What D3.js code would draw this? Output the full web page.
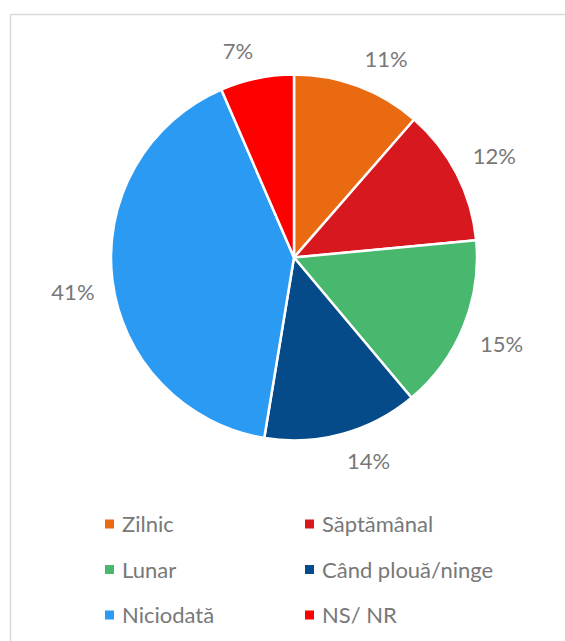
<!DOCTYPE html>
<html>
<head>
    <meta charset="utf-8">
    <title>Pie chart</title>
    <script src="https://d3js.org/d3.v7.min.js"></script>
    <style>
        body { margin: 0; background: #fff; }
        svg { font-family: Lato, "Open Sans", sans-serif; }
        .label { fill: #787878; font-size: 22px; }
        .legend text { fill: #787878; font-size: 22px; }
    </style>
</head>
<body>
    <script>
        // chart data
        var categories = ["Zilnic", "Săptămânal", "Lunar", "Când plouă/ninge", "Niciodată", "NS/ NR"];
        var values = [11.4, 12.1, 15.4, 13.7, 40.9, 6.5];
        var colors = ["#EA6A12", "#D7191F", "#48B86E", "#054B8A", "#2B9AF3", "#FF0000"];

        var width = 565, height = 641;
        var cx = 294, cy = 257.5, radius = 183;

        var svg = d3.select("body").append("svg")
            .attr("width", width)
            .attr("height", height);

        // chart frame (cut off on the right and bottom)
        svg.append("rect")
            .attr("x", 10.5).attr("y", 14.5)
            .attr("width", 700).attr("height", 800)
            .attr("fill", "none")
            .attr("stroke", "#d9d9d9")
            .attr("stroke-width", 1.5);

        var data = categories.map(function(c, i) { return { name: c, value: values[i], color: colors[i] }; });

        var pie = d3.pie().sort(null).value(function(d) { return d.value; });
        var arc = d3.arc().innerRadius(0).outerRadius(radius);
        var arcs = pie(data);

        var g = svg.append("g").attr("transform", "translate(" + cx + "," + cy + ")");

        g.selectAll("path")
            .data(arcs)
            .enter().append("path")
            .attr("d", arc)
            .attr("fill", function(d) { return d.data.color; })
            .attr("stroke", "#fff")
            .attr("stroke-width", 2.5)
            .attr("stroke-linejoin", "round");

        // labels outside the slices: nearest corner of the text box sits on the label ring
        var gap = 18, halfH = 10;
        g.selectAll("text.label")
            .data(arcs)
            .enter().append("text")
            .attr("class", "label")
            .attr("text-anchor", "middle")
            .attr("dy", "0.36em")
            .text(function(d) { return Math.round(d.data.value) + "%"; })
            .each(function(d) {
                var a = (d.startAngle + d.endAngle) / 2;
                var halfW = this.getComputedTextLength() / 2;
                var r = radius + gap;
                var x = r * Math.sin(a) + halfW * Math.sign(Math.sin(a));
                var y = -r * Math.cos(a) - halfH * Math.sign(Math.cos(a));
                d3.select(this).attr("x", x).attr("y", y);
            });

        // legend, two columns
        var colX = [105, 305], rowY = [524, 569.5, 615], box = 9;
        var legend = svg.append("g").attr("class", "legend");
        var items = legend.selectAll("g")
            .data(data)
            .enter().append("g")
            .attr("transform", function(d, i) {
                return "translate(" + colX[i % 2] + "," + rowY[Math.floor(i / 2)] + ")";
            });
        items.append("rect")
            .attr("x", 0).attr("y", -box / 2)
            .attr("width", box).attr("height", box)
            .attr("fill", function(d) { return d.color; });
        items.append("text")
            .attr("x", 17)
            .attr("y", 8)
            .text(function(d) { return d.name; });
    </script>
</body>
</html>
